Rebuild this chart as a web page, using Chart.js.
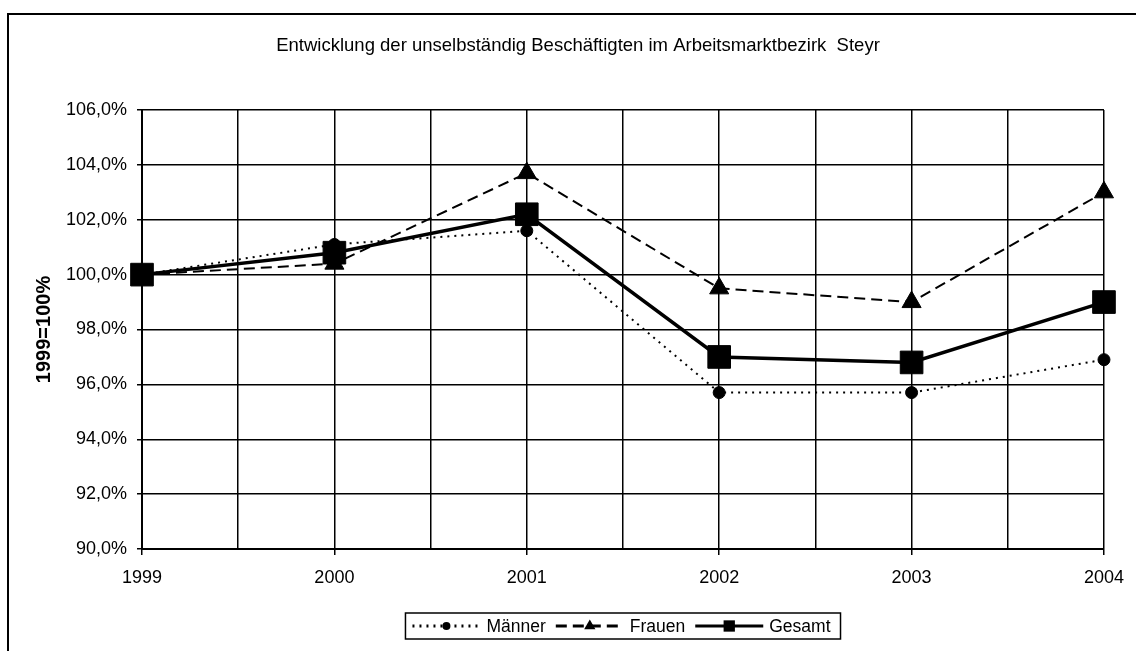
<!DOCTYPE html>
<html lang="de">
<head>
<meta charset="utf-8">
<title>Unselbständig Beschäftigte Steyr</title>
<script src="https://cdn.jsdelivr.net/npm/chart.js@4/dist/chart.umd.min.js"></script>
<style>
  html, body { margin: 0; padding: 0; background: #fff; }
  #wrap { position: relative; width: 1136px; height: 651px; overflow: hidden; }
  #frame {
    position: absolute; left: 7px; top: 13px; width: 1200px; height: 700px;
    border: 2px solid #000; pointer-events: none;
  }
  canvas { position: absolute; left: 0; top: 0; }
</style>
</head>
<body>
<div id="wrap">
  <canvas id="chart" width="1136" height="651"></canvas>
  <div id="frame"></div>
</div>
<script>
// Werte (1999 = 100 %)
const years = ['1999', '2000', '2001', '2002', '2003', '2004']
const maenner = [100.0, 101.1, 101.6, 95.7, 95.7, 96.9]
const frauen = [100.0, 100.4, 103.7, 99.5, 99.0, 103.0]
const gesamt = [100.0, 100.8, 102.2, 97.0, 96.8, 99.0]

const titleText = 'Entwicklung der unselbständig Beschäftigten im Arbeitsmarktbezirk  Steyr'
const yTitle = '1999=100%'
const FONT = '"Liberation Sans", Arial, sans-serif'

const toPoints = arr => arr.map((v, i) => ({ x: i, y: v }))

// Diagrammtitel (leicht rechts der Mitte wie im Original)
const titlePlugin = {
  id: 'titleText',
  afterDraw(chart) {
    const ctx = chart.ctx
    ctx.save()
    ctx.font = '18.5px ' + FONT
    ctx.fillStyle = '#000'
    ctx.textAlign = 'center'
    ctx.textBaseline = 'middle'
    ctx.fillText(titleText, 578, 46)
    ctx.restore()
  },
}

// Legende im Kasten: Linienmuster mit Markierung in der Mitte
const legendBox = {
  id: 'legendBox',
  afterDraw(chart) {
    const { ctx, chartArea } = chart
    const sample = 68, gap = 6, itemGap = 10, padL = 7, padR = 10, h = 26
    ctx.save()
    ctx.font = '17.5px ' + FONT
    const items = chart.data.datasets.map(ds => ({
      ds,
      w: sample + gap + ctx.measureText(ds.label).width,
    }))
    const total = padL + padR + items.reduce((a, it) => a + it.w, 0) + itemGap * (items.length - 1)
    let x = (chartArea.left + chartArea.right) / 2 - total / 2
    const top = chartArea.bottom + 64
    ctx.lineWidth = 1.5
    ctx.strokeStyle = '#000'
    ctx.strokeRect(x, top, total, h)
    const cy = top + h / 2
    x += padL
    items.forEach(({ ds, w }) => {
      ctx.strokeStyle = '#000'
      ctx.lineWidth = ds.legendWidth
      ctx.setLineDash(ds.borderDash || [])
      ctx.beginPath()
      ctx.moveTo(x, cy)
      ctx.lineTo(x + sample, cy)
      ctx.stroke()
      ctx.setLineDash([])
      ctx.fillStyle = '#000'
      Chart.helpers.drawPoint(ctx, {
        pointStyle: ds.pointStyle, radius: ds.legendRadius, rotation: 0, borderWidth: 0,
      }, x + sample / 2, cy)
      ctx.fillStyle = '#000'
      ctx.textAlign = 'left'
      ctx.textBaseline = 'middle'
      ctx.fillText(ds.label, x + sample + gap, cy + 1)
      x += w + itemGap
    })
    ctx.restore()
  },
}

new Chart(document.getElementById('chart'), {
  type: 'line',
  data: {
    datasets: [
      {
        label: 'Männer',
        data: toPoints(maenner),
        borderColor: '#000',
        borderWidth: 2,
        borderDash: [2, 5],
        legendWidth: 3,
        pointStyle: 'circle',
        pointRadius: 6,
        legendRadius: 4,
        pointBackgroundColor: '#000',
        pointBorderColor: '#000',
        pointBorderWidth: 1,
        order: 2,
      },
      {
        label: 'Frauen',
        data: toPoints(frauen),
        borderColor: '#000',
        borderWidth: 2,
        borderDash: [11, 6],
        legendWidth: 3,
        pointStyle: 'triangle',
        pointRadius: 11,
        legendRadius: 6.5,
        pointBackgroundColor: '#000',
        pointBorderColor: '#000',
        pointBorderWidth: 1,
        order: 1,
      },
      {
        label: 'Gesamt',
        data: toPoints(gesamt),
        borderColor: '#000',
        borderWidth: 3.5,
        legendWidth: 3,
        pointStyle: 'rect',
        pointRadius: 16,
        legendRadius: 8,
        pointBackgroundColor: '#000',
        pointBorderColor: '#000',
        pointBorderWidth: 1,
        order: 0,
      },
    ],
  },
  options: {
    responsive: false,
    animation: false,
    devicePixelRatio: 1,
    clip: false,
    tension: 0,
    layout: { padding: { left: 10, top: 110, right: 28, bottom: 62 } },
    plugins: {
      legend: { display: false },
      tooltip: { enabled: false },
      title: { display: false },
    },
    scales: {
      x: {
        type: 'linear',
        min: 0,
        max: 5,
        afterFit: s => { s.height = 40 },
        border: { color: '#000', width: 2 },
        grid: {
          color: '#000',
          lineWidth: 1.5,
          tickLength: 6,
          tickColor: c => (Number.isInteger(c.tick && c.tick.value) ? '#000' : 'rgba(0,0,0,0)'),
        },
        ticks: {
          stepSize: 0.5,
          autoSkip: false,
          maxRotation: 0,
          padding: 12,
          color: '#000',
          font: { family: FONT, size: 18 },
          callback: v => (Number.isInteger(v) ? years[v] : ''),
        },
      },
      y: {
        min: 90,
        max: 106,
        afterFit: s => { s.width = 132 },
        border: { color: '#000', width: 2 },
        grid: { color: '#000', lineWidth: 1.5, tickLength: 5 },
        ticks: {
          stepSize: 2,
          padding: 10,
          color: '#000',
          font: { family: FONT, size: 18 },
          callback: v => v.toFixed(1).replace('.', ',') + '%',
        },
        title: {
          display: true,
          text: yTitle,
          color: '#000',
          padding: { top: 22, bottom: 0 },
          font: { family: FONT, size: 20, weight: 'bold' },
        },
      },
    },
  },
  plugins: [titlePlugin, legendBox],
})
</script>
</body>
</html>
